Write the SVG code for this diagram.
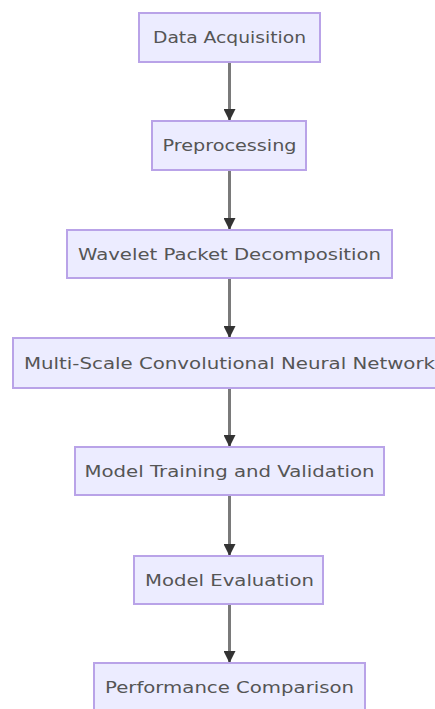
<svg xmlns="http://www.w3.org/2000/svg" width="435" height="709" viewBox="0 0 435 709">
  <style>
    .box { fill: #ECECFF; stroke: #b9a3e8; stroke-width: 2; }
    .label { font-family: "DejaVu Sans", Verdana, sans-serif; font-size: 16px; fill: #555; text-anchor: middle; dominant-baseline: central; }
    .edge { stroke: #7a7a7a; stroke-width: 3; fill: none; marker-end: url(#arrow); }
  </style>
  <defs>
    <marker id="arrow" viewBox="0 0 10 10" refX="10" refY="5" markerUnits="userSpaceOnUse" markerWidth="12" markerHeight="12" orient="auto">
      <path d="M0,0 L10,5 L0,10 z" fill="#333"/>
    </marker>
  </defs>

  <g id="connectors">
    <line class="edge" x1="229.5" y1="62" x2="229.5" y2="121"/>
    <line class="edge" x1="229.5" y1="170" x2="229.5" y2="230"/>
    <line class="edge" x1="229.5" y1="278" x2="229.5" y2="338"/>
    <line class="edge" x1="229.5" y1="388" x2="229.5" y2="447"/>
    <line class="edge" x1="229.5" y1="495" x2="229.5" y2="556"/>
    <line class="edge" x1="229.5" y1="604" x2="229.5" y2="663"/>
  </g>

  <g id="data-acquisition">
    <rect class="box" x="139" y="13" width="181" height="49"/>
    <text class="label" x="229.5" y="37.5" textLength="153" lengthAdjust="spacingAndGlyphs">Data Acquisition</text>
  </g>
  <g id="preprocessing">
    <rect class="box" x="152" y="121" width="154" height="49"/>
    <text class="label" x="229.5" y="145.5" textLength="134" lengthAdjust="spacingAndGlyphs">Preprocessing</text>
  </g>
  <g id="wavelet-packet-decomposition">
    <rect class="box" x="67" y="230" width="325" height="48"/>
    <text class="label" x="229.5" y="254" textLength="303" lengthAdjust="spacingAndGlyphs">Wavelet Packet Decomposition</text>
  </g>
  <g id="multi-scale-cnn">
    <rect class="box" x="13" y="338" width="433" height="50"/>
    <text class="label" x="229.5" y="363" textLength="411" lengthAdjust="spacingAndGlyphs">Multi-Scale Convolutional Neural Network</text>
  </g>
  <g id="model-training">
    <rect class="box" x="75" y="447" width="309" height="48"/>
    <text class="label" x="229.5" y="471" textLength="290" lengthAdjust="spacingAndGlyphs">Model Training and Validation</text>
  </g>
  <g id="model-evaluation">
    <rect class="box" x="134" y="556" width="189" height="48"/>
    <text class="label" x="229.5" y="580" textLength="169" lengthAdjust="spacingAndGlyphs">Model Evaluation</text>
  </g>
  <g id="performance-comparison">
    <rect class="box" x="94" y="663" width="271" height="48"/>
    <text class="label" x="229.5" y="687" textLength="249" lengthAdjust="spacingAndGlyphs">Performance Comparison</text>
  </g>
</svg>
